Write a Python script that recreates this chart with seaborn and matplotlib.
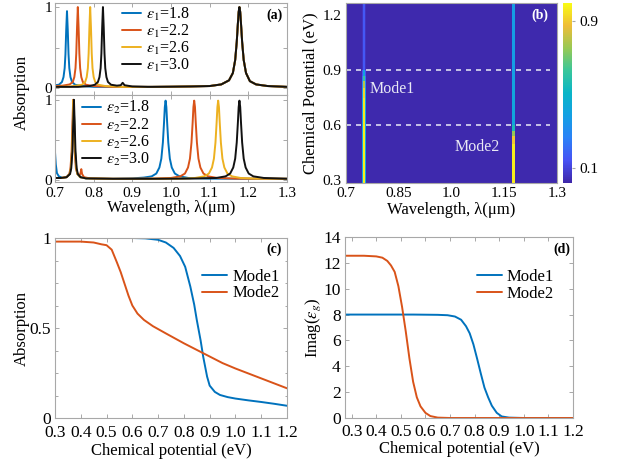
import numpy as np
import matplotlib
matplotlib.use('Agg')
import matplotlib.pyplot as plt
from matplotlib.colors import LinearSegmentedColormap
from matplotlib.ticker import MultipleLocator
import seaborn as sns

# ---------------- data: panel (a), top (eps1 varied) ----------------
eps_values = ['1.8', '2.2', '2.6', '3.0']

a1_wl_18 = [0.700, 0.710, 0.718, 0.722, 0.725, 0.727, 0.729, 0.731, 0.733, 0.735,
            0.737, 0.740, 0.744, 0.752, 0.770, 0.800, 0.850, 0.900, 0.940]
a1_ab_18 = [0.04, 0.046, 0.08, 0.14, 0.25, 0.42, 0.72, 0.95, 0.72, 0.42,
            0.25, 0.14, 0.08, 0.046, 0.03, 0.02, 0.02, 0.02, 0.02]
a1_wl_22 = [0.700, 0.720, 0.738, 0.746, 0.750, 0.753, 0.755, 0.757, 0.759, 0.761,
            0.763, 0.765, 0.768, 0.772, 0.780, 0.800, 0.850, 0.900, 0.940]
a1_ab_22 = [0.03, 0.035, 0.05, 0.08, 0.14, 0.25, 0.43, 0.75, 1.0, 0.75,
            0.43, 0.25, 0.14, 0.08, 0.046, 0.03, 0.02, 0.02, 0.02]
a1_wl_26 = [0.700, 0.740, 0.770, 0.778, 0.782, 0.785, 0.787, 0.789, 0.791, 0.793,
            0.795, 0.797, 0.800, 0.804, 0.812, 0.830, 0.870, 0.940]
a1_ab_26 = [0.02, 0.025, 0.046, 0.08, 0.14, 0.25, 0.43, 0.75, 1.0, 0.75,
            0.43, 0.25, 0.14, 0.08, 0.046, 0.03, 0.02, 0.02]
a1_wl_30 = [0.700, 0.760, 0.790, 0.803, 0.811, 0.815, 0.818, 0.820, 0.822, 0.824,
            0.826, 0.828, 0.830, 0.833, 0.837, 0.845, 0.860, 0.870, 0.875, 0.880,
            0.900, 0.940]
a1_ab_30 = [0.02, 0.02, 0.03, 0.046, 0.08, 0.14, 0.25, 0.43, 0.75, 1.0,
            0.75, 0.43, 0.25, 0.14, 0.08, 0.046, 0.035, 0.04, 0.07, 0.04,
            0.025, 0.02]
# shared long-wavelength resonance (same for every eps1)
a1_wl_shared = [0.95, 1.00, 1.05, 1.10, 1.13, 1.15, 1.160, 1.166, 1.170, 1.173,
                1.175, 1.177, 1.179, 1.181, 1.184, 1.188, 1.194, 1.204, 1.22, 1.25, 1.30]
a1_ab_shared = [0.02, 0.022, 0.025, 0.03, 0.05, 0.10, 0.19, 0.35, 0.57, 0.80,
                0.94, 1.00, 0.94, 0.80, 0.57, 0.35, 0.19, 0.09, 0.05, 0.03, 0.02]

# ---------------- data: panel (a), bottom (eps2 varied) ----------------
a2_wl_18 = [0.700, 0.702, 0.705, 0.710, 0.720, 0.730, 0.738, 0.741, 0.744, 0.746,
            0.748, 0.750, 0.752, 0.755, 0.758, 0.765, 0.780, 0.85, 0.90, 0.93,
            0.950, 0.962, 0.970, 0.975, 0.979, 0.982, 0.984, 0.986, 0.988, 0.990,
            0.993, 0.997, 1.002, 1.010, 1.022, 1.045, 1.10, 1.20, 1.30]
a2_ab_18 = [0.35, 0.20, 0.09, 0.05, 0.03, 0.04, 0.08, 0.15, 0.36, 0.69,
            1.0, 0.69, 0.36, 0.15, 0.08, 0.04, 0.025, 0.02, 0.025, 0.035,
            0.05, 0.085, 0.16, 0.27, 0.47, 0.72, 0.91, 0.99, 0.91, 0.72,
            0.47, 0.27, 0.16, 0.085, 0.05, 0.03, 0.022, 0.02, 0.02]
a2_wl_22 = [0.700, 0.715, 0.730, 0.737, 0.740, 0.743, 0.745, 0.747, 0.749, 0.751,
            0.754, 0.758, 0.763, 0.766, 0.768, 0.770, 0.775, 0.790, 0.85, 0.95,
            1.000, 1.024, 1.036, 1.044, 1.049, 1.053, 1.056, 1.058, 1.060, 1.062,
            1.064, 1.067, 1.071, 1.076, 1.084, 1.096, 1.12, 1.17, 1.30]
a2_ab_22 = [0.03, 0.03, 0.04, 0.08, 0.15, 0.36, 0.69, 1.0, 0.69, 0.36,
            0.15, 0.08, 0.06, 0.09, 0.14, 0.08, 0.04, 0.025, 0.02, 0.022,
            0.03, 0.05, 0.085, 0.16, 0.27, 0.47, 0.72, 0.91, 0.99, 0.91,
            0.72, 0.47, 0.27, 0.16, 0.085, 0.05, 0.03, 0.022, 0.02]
a2_wl_26 = [0.700, 0.715, 0.730, 0.738, 0.741, 0.744, 0.746, 0.748, 0.750, 0.752,
            0.755, 0.758, 0.765, 0.780, 0.85, 0.95, 1.03, 1.062, 1.086, 1.098,
            1.106, 1.111, 1.115, 1.118, 1.120, 1.122, 1.124, 1.126, 1.129, 1.133,
            1.138, 1.146, 1.158, 1.18, 1.22, 1.30]
a2_ab_26 = [0.03, 0.03, 0.04, 0.08, 0.15, 0.36, 0.69, 1.0, 0.69, 0.36,
            0.15, 0.08, 0.04, 0.025, 0.02, 0.02, 0.022, 0.03, 0.05, 0.085,
            0.16, 0.27, 0.47, 0.72, 0.91, 0.99, 0.91, 0.72, 0.47, 0.27,
            0.16, 0.085, 0.05, 0.03, 0.022, 0.02]
a2_wl_30 = [0.700, 0.715, 0.730, 0.739, 0.742, 0.745, 0.747, 0.749, 0.751, 0.753,
            0.756, 0.759, 0.766, 0.780, 0.85, 0.95, 1.05, 1.117, 1.141, 1.153,
            1.161, 1.166, 1.170, 1.173, 1.175, 1.177, 1.179, 1.181, 1.184, 1.188,
            1.193, 1.201, 1.213, 1.24, 1.27, 1.30]
a2_ab_30 = [0.03, 0.03, 0.04, 0.08, 0.15, 0.36, 0.69, 1.0, 0.69, 0.36,
            0.15, 0.08, 0.04, 0.025, 0.02, 0.02, 0.022, 0.03, 0.05, 0.085,
            0.16, 0.27, 0.47, 0.72, 0.91, 0.99, 0.91, 0.72, 0.47, 0.27,
            0.16, 0.085, 0.05, 0.03, 0.025, 0.02]

# ---------------- data: panel (b) absorption map ----------------
map_wl_edges = [0.700, 0.7460, 0.7475, 0.7545, 0.7560, 1.1715, 1.1730, 1.1800, 1.1815, 1.300]
map_mu_edges = [0.285, 0.50, 0.54, 0.57, 0.60, 0.75, 0.80, 0.84, 0.87, 0.90, 1.265]
map_background = 0.03
map_mode1_core = [0.97, 0.97, 0.97, 0.97, 0.96, 0.92, 0.80, 0.62, 0.40, 0.16]
map_mode1_side = [0.42, 0.42, 0.42, 0.42, 0.41, 0.38, 0.30, 0.22, 0.14, 0.06]
map_mode2_core = [0.97, 0.90, 0.75, 0.55, 0.42, 0.42, 0.41, 0.40, 0.39, 0.38]
map_mode2_side = [0.42, 0.38, 0.30, 0.22, 0.15, 0.15, 0.14, 0.14, 0.13, 0.13]
map_dash_levels = [0.9, 0.6]

# ---------------- data: panel (c) ----------------
c_mu_mode1 = [0.30, 0.40, 0.50, 0.60, 0.65, 0.70, 0.73, 0.76, 0.785, 0.805,
              0.825, 0.84, 0.85, 0.865, 0.875, 0.89, 0.90, 0.92, 0.94, 0.97,
              1.00, 1.05, 1.10, 1.15, 1.20]
c_abs_mode1 = [1.0, 1.0, 1.0, 1.0, 0.998, 0.99, 0.975, 0.945, 0.90, 0.84,
               0.73, 0.63, 0.545, 0.43, 0.34, 0.23, 0.18, 0.145, 0.128, 0.116,
               0.108, 0.098, 0.089, 0.079, 0.068]
c_mu_mode2 = [0.30, 0.40, 0.45, 0.48, 0.50, 0.52, 0.54, 0.555, 0.57, 0.585,
              0.60, 0.62, 0.645, 0.68, 0.73, 0.80, 0.875, 0.95, 1.00, 1.10, 1.20]
c_abs_mode2 = [0.98, 0.98, 0.975, 0.965, 0.96, 0.935, 0.865, 0.81, 0.745, 0.68,
               0.625, 0.58, 0.545, 0.51, 0.47, 0.415, 0.36, 0.305, 0.275, 0.22, 0.165]

# ---------------- data: panel (d) ----------------
d_mu_mode1 = [0.27, 0.40, 0.55, 0.65, 0.69, 0.72, 0.745, 0.765, 0.78, 0.795,
              0.81, 0.825, 0.84, 0.855, 0.87, 0.89, 0.91, 0.94, 1.00, 1.10, 1.20]
d_im_mode1 = [8.0, 8.0, 8.0, 7.98, 7.95, 7.85, 7.6, 7.1, 6.55, 5.7,
              4.6, 3.45, 2.35, 1.6, 0.95, 0.4, 0.12, 0.03, 0.0, 0.0, 0.0]
d_mu_mode2 = [0.27, 0.35, 0.40, 0.425, 0.445, 0.46, 0.475, 0.49, 0.505, 0.52,
              0.535, 0.55, 0.565, 0.58, 0.60, 0.62, 0.65, 0.70, 0.80, 1.00, 1.20]
d_im_mode2 = [12.55, 12.55, 12.5, 12.4, 12.15, 11.8, 11.3, 10.2, 8.6, 6.7,
              4.6, 2.8, 1.6, 0.9, 0.4, 0.15, 0.03, 0.0, 0.0, 0.0, 0.0]

# ---------------- style ----------------
sns.set_style('ticks')
plt.rcParams['font.family'] = ['Liberation Serif', 'DejaVu Serif']
plt.rcParams['mathtext.fontset'] = 'stix'
plt.rcParams['axes.edgecolor'] = '#a8a8a8'
plt.rcParams['axes.linewidth'] = 0.8
plt.rcParams['xtick.color'] = '#a8a8a8'
plt.rcParams['ytick.color'] = '#a8a8a8'
plt.rcParams['xtick.labelcolor'] = 'black'
plt.rcParams['ytick.labelcolor'] = 'black'
plt.rcParams['text.color'] = 'black'
plt.rcParams['axes.labelcolor'] = 'black'

BLUE = '#0072BD'
ORANGE = '#D95319'
YELLOW = '#EDB120'
BLACK = '#111111'
colors = [BLUE, ORANGE, YELLOW, BLACK]

parula = LinearSegmentedColormap.from_list('parula', [
    (0.2422, 0.1504, 0.6603), (0.2810, 0.3228, 0.9579), (0.1707, 0.5079, 0.9681),
    (0.0770, 0.6276, 0.8906), (0.0355, 0.7092, 0.7809), (0.2234, 0.7766, 0.6052),
    (0.5932, 0.7887, 0.3297), (0.9334, 0.7399, 0.2154), (0.9769, 0.9839, 0.0805)])

W, H = 618, 463
fig = plt.figure(figsize=(W / 100, H / 100), dpi=100)


def rect(x0, y0, x1, y1):
    return [x0 / W, 1 - y1 / H, (x1 - x0) / W, (y1 - y0) / H]


def style(ax, size, pad=3):
    ax.tick_params(which='both', direction='in', top=True, right=True,
                   labelsize=size, pad=pad, length=3, width=0.7)
    ax.tick_params(which='minor', length=1.8)
    for s in ax.spines.values():
        s.set_visible(True)
        s.set_color('#a8a8a8')


# ---------------- panel (a) ----------------
ax_at = fig.add_axes(rect(55, 3, 287, 95))
ax_ab = fig.add_axes(rect(55, 95, 287, 182))

top_sets = [(a1_wl_18, a1_ab_18), (a1_wl_22, a1_ab_22), (a1_wl_26, a1_ab_26), (a1_wl_30, a1_ab_30)]
for (wl, ab), col, ev in zip(top_sets, colors, eps_values):
    x = np.concatenate([wl, a1_wl_shared])
    y = np.concatenate([ab, a1_ab_shared])
    sns.lineplot(x=x, y=y, ax=ax_at, color=col, lw=1.4, estimator=None, sort=False,
                 label=r'$\varepsilon_{\mathit{1}}$=' + ev)
bot_sets = [(a2_wl_18, a2_ab_18), (a2_wl_22, a2_ab_22), (a2_wl_26, a2_ab_26), (a2_wl_30, a2_ab_30)]
for (wl, ab), col, ev in zip(bot_sets, colors, eps_values):
    sns.lineplot(x=wl, y=ab, ax=ax_ab, color=col, lw=1.4, estimator=None, sort=False,
                 label=r'$\varepsilon_{\mathit{2}}$=' + ev)

for ax in (ax_at, ax_ab):
    ax.set_xlim(0.7, 1.3)
    ax.set_yticks([0, 0.5, 1])
    ax.set_yticklabels(['0', '', '1'])
    ax.set_xticks(np.arange(0.7, 1.301, 0.1))
    style(ax, 11, pad=2)
    ax.set_xlabel('')
    ax.set_ylabel('')
ax_ab.tick_params(axis='x', pad=3.5)
ax_at.set_ylim(-0.08, 1.05)
ax_ab.set_ylim(-0.02, 1.06)
ax_at.set_xticklabels([])
ax_ab.set_xticklabels(['0.7', '0.8', '0.9', '1.0', '1.1', '1.2', '1.3'])
ax_ab.set_xlabel('Wavelength, λ(μm)', fontsize=12)
ax_ab.xaxis.set_label_coords(0.5, -0.21)
fig.text(22 / W, 1 - 92 / H, 'Absorption', rotation=90, ha='center', va='center', fontsize=12)
ax_at.legend(loc='upper left', bbox_to_anchor=(0.29, 0.97), frameon=False, fontsize=11.5,
             handlelength=1.2, handletextpad=0.3, labelspacing=0.0, borderpad=0, borderaxespad=0)
ax_ab.legend(loc='upper left', bbox_to_anchor=(0.115, 0.95), frameon=False, fontsize=11.5,
             handlelength=1.2, handletextpad=0.3, labelspacing=0.0, borderpad=0, borderaxespad=0)
ax_at.text(0.948, 0.87, '(a)', transform=ax_at.transAxes, ha='center', va='center',
           fontsize=10, fontweight='bold')

# ---------------- panel (b) ----------------
ax_b = fig.add_axes(rect(346, 3, 557, 183))
bg = np.full(len(map_mode1_core), map_background)
Z = np.column_stack([bg, map_mode1_side, map_mode1_core, map_mode1_side, bg,
                     map_mode2_side, map_mode2_core, map_mode2_side, bg])
mesh = ax_b.pcolormesh(map_wl_edges, map_mu_edges, Z, cmap=parula, vmin=0.02, vmax=1.0,
                       shading='flat', antialiased=False)
for lev in map_dash_levels:
    ax_b.plot([0.7, 1.28], [lev, lev], color='#dcdcf0', lw=1.2, ls=(0, (3, 3)))
ax_b.set_xlim(0.7, 1.3)
ax_b.set_ylim(0.285, 1.265)
ax_b.set_xticks([0.7, 0.85, 1.0, 1.15, 1.3])
ax_b.set_xticklabels(['0.7', '0.85', '1.0', '1.15', '1.3'])
ax_b.set_yticks([0.3, 0.6, 0.9, 1.2])
ax_b.set_yticklabels(['0.3', '0.6', '0.9', '1.2'])
style(ax_b, 11, pad=3)
ax_b.tick_params(top=False, right=False, length=0)
ax_b.set_xlabel('Wavelength, λ(μm)', fontsize=12)
ax_b.xaxis.set_label_coords(0.5, -0.105)
ax_b.set_ylabel('Chemical Potential (eV)', fontsize=12)
ax_b.yaxis.set_label_coords(-0.133, 0.5)
ax_b.text(0.831, 0.797, 'Mode1', color='#e8e8f4', fontsize=11.5, ha='center', va='center')
ax_b.text(1.072, 0.481, 'Mode2', color='#e8e8f4', fontsize=11.5, ha='center', va='center')
ax_b.text(0.919, 0.933, '(b)', transform=ax_b.transAxes, ha='center', va='center',
          fontsize=10, fontweight='bold', color='white')
cax = fig.add_axes(rect(563, 3, 572, 183))
cb = fig.colorbar(mesh, cax=cax, ticks=[0.1, 0.9])
cb.ax.set_yticklabels(['0.1', '0.9'])
cb.outline.set_visible(False)
cb.ax.tick_params(labelsize=11, length=2, pad=3, color='#a8a8a8')

# ---------------- panel (c) ----------------
ax_c = fig.add_axes(rect(55, 238, 287, 418))
sns.lineplot(x=c_mu_mode1, y=c_abs_mode1, ax=ax_c, color=BLUE, lw=1.4, estimator=None,
             sort=False, label='Mode1')
sns.lineplot(x=c_mu_mode2, y=c_abs_mode2, ax=ax_c, color=ORANGE, lw=1.4, estimator=None,
             sort=False, label='Mode2')
ax_c.set_xlim(0.3, 1.2)
ax_c.set_ylim(0, 1)
ax_c.set_xticks(np.arange(0.3, 1.201, 0.1))
ax_c.set_xticklabels([f'{v:.1f}' for v in np.arange(0.3, 1.201, 0.1)])
ax_c.set_yticks([0, 0.5, 1])
ax_c.set_yticklabels(['0', '0.5', '1'])
ax_c.yaxis.set_minor_locator(MultipleLocator(0.125))
style(ax_c, 12.5, pad=3)
ax_c.tick_params(axis='x', pad=5)
ax_c.set_xlabel('Chemical potential (eV)', fontsize=12)
ax_c.xaxis.set_label_coords(0.5, -0.14)
ax_c.set_ylabel('Absorption', fontsize=12)
ax_c.yaxis.set_label_coords(-0.108, 0.5)
ax_c.legend(loc='upper left', bbox_to_anchor=(0.634, 0.83), frameon=False, fontsize=12,
            handlelength=1.5, handletextpad=0.3, labelspacing=0.05, borderpad=0, borderaxespad=0)
ax_c.text(0.944, 0.939, '(c)', transform=ax_c.transAxes, ha='center', va='center',
          fontsize=10, fontweight='bold')

# ---------------- panel (d) ----------------
ax_d = fig.add_axes(rect(345, 237, 573, 418))
sns.lineplot(x=d_mu_mode1, y=d_im_mode1, ax=ax_d, color=BLUE, lw=1.4, estimator=None,
             sort=False, label='Mode1')
sns.lineplot(x=d_mu_mode2, y=d_im_mode2, ax=ax_d, color=ORANGE, lw=1.4, estimator=None,
             sort=False, label='Mode2')
ax_d.set_xlim(0.273, 1.2)
ax_d.set_ylim(0, 14)
ax_d.set_xticks(np.arange(0.3, 1.201, 0.1))
ax_d.set_xticklabels([f'{v:.1f}' for v in np.arange(0.3, 1.201, 0.1)])
ax_d.set_yticks(np.arange(0, 15, 2))
style(ax_d, 12.5, pad=3)
ax_d.tick_params(axis='x', pad=4)
ax_d.set_xlabel('Chemical potential (eV)', fontsize=12)
ax_d.xaxis.set_label_coords(0.5, -0.125)
ax_d.set_ylabel(r'Imag($\varepsilon_g$)', fontsize=12)
ax_d.yaxis.set_label_coords(-0.096, 0.5)
ax_d.legend(loc='upper left', bbox_to_anchor=(0.579, 0.825), frameon=False, fontsize=12,
            handlelength=1.5, handletextpad=0.3, labelspacing=0.05, borderpad=0, borderaxespad=0)
ax_d.text(0.952, 0.934, '(d)', transform=ax_d.transAxes, ha='center', va='center',
          fontsize=10, fontweight='bold')

fig.savefig('out.png', dpi=100)
